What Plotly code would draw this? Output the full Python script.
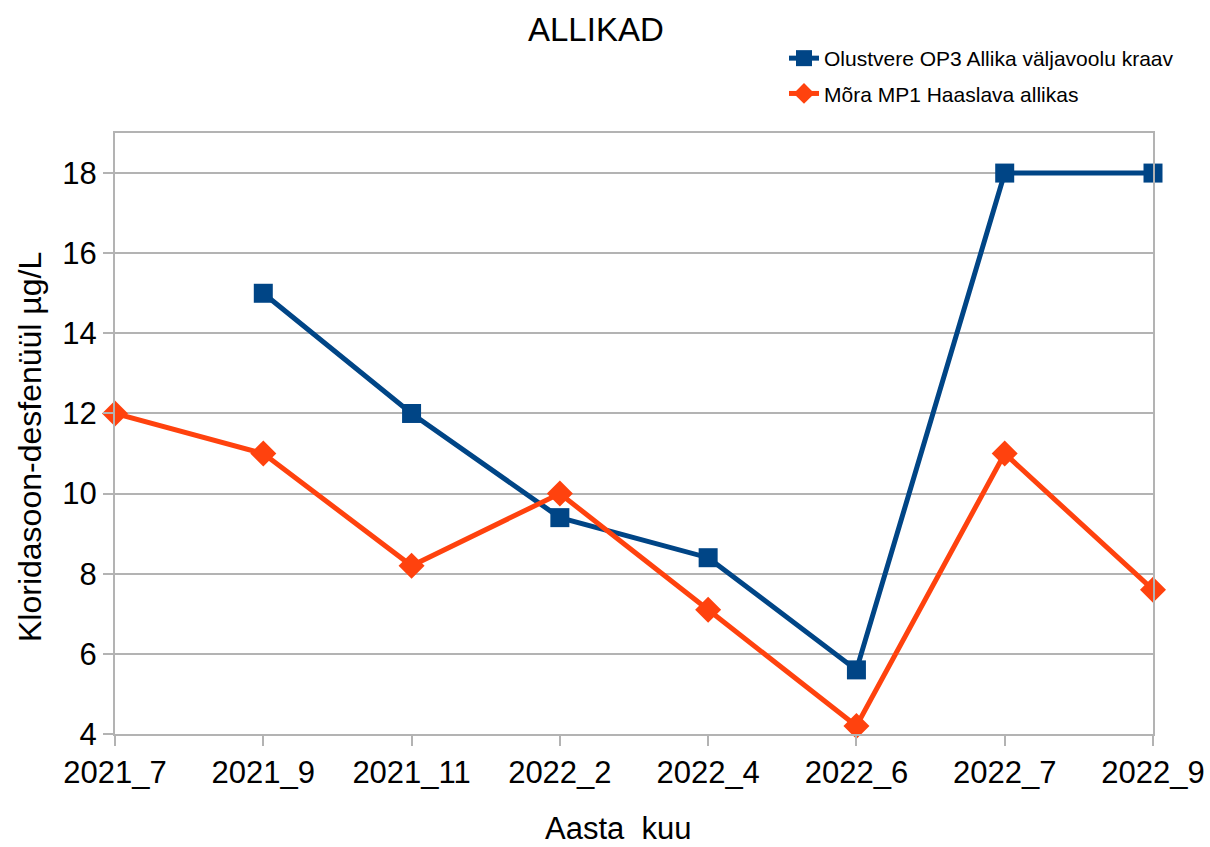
import plotly.graph_objects as go

FONT = 'Liberation Sans, Arial, sans-serif'
BLUE = '#004586'
ORANGE = '#ff420e'
GRID = '#b3b3b3'

months = ['2021_7', '2021_9', '2021_11', '2022_2', '2022_4', '2022_6', '2022_7', '2022_9']
olustvere = [None, 15, 12, 9.4, 8.4, 5.6, 18, 18]
mora = [12, 11, 8.2, 10, 7.1, 4.2, 11, 7.6]
y_ticks = [4, 6, 8, 10, 12, 14, 16, 18]

fig = go.Figure()
fig.add_trace(go.Scatter(
    x=months, y=olustvere, name='Olustvere OP3 Allika väljavoolu kraav',
    mode='lines+markers', line=dict(color=BLUE, width=5), legendgroup='a',
    marker=dict(symbol='square', size=19, color=BLUE), cliponaxis=False,
))
fig.add_trace(go.Scatter(
    x=months, y=mora, name='Mõra MP1 Haaslava allikas',
    mode='lines+markers', line=dict(color=ORANGE, width=5), legendgroup='b',
    marker=dict(symbol='diamond', size=20, color=ORANGE), cliponaxis=False,
))

W, H = 1210, 847
PL, PR, PT, PB = 115, 1153, 133, 734  # plot area in page pixels


def px_x(v):
    return (v - PL) / (PR - PL)


def px_y(v):
    return 1 - (v - PT) / (PB - PT)


fig.update_layout(
    width=W, height=H,
    margin=dict(l=PL, r=W - PR, t=PT, b=H - PB, autoexpand=False),
    plot_bgcolor='white', paper_bgcolor='white',
    font=dict(family=FONT, color='black'),
    showlegend=True,
    legend=dict(
        x=px_x(784), y=px_y(38), xanchor='left', yanchor='top',
        font=dict(size=21), bgcolor='rgba(0,0,0,0)',
        tracegroupgap=5,
    ),
    xaxis=dict(
        type='category', range=[0, 7], showgrid=False, automargin=False,
        showline=True, linecolor=GRID, linewidth=2, mirror=True,
        ticks='outside', ticklen=10, tickcolor=GRID, tickwidth=2,
        tickfont=dict(size=31), zeroline=False,
    ),
    yaxis=dict(
        range=[4, 19], tickvals=y_ticks, showgrid=True, gridcolor=GRID, gridwidth=2,
        showline=True, linecolor=GRID, linewidth=2, mirror=True, automargin=False,
        ticks='outside', ticklen=10, tickcolor=GRID, tickwidth=2,
        tickfont=dict(size=31), zeroline=False,
    ),
    annotations=[
        dict(text='ALLIKAD', x=px_x(596), y=px_y(30), xref='paper', yref='paper',
             showarrow=False, font=dict(size=33), xanchor='center', yanchor='middle'),
        dict(text='Aasta  kuu', x=px_x(618), y=px_y(828), xref='paper', yref='paper',
             showarrow=False, font=dict(size=31), xanchor='center', yanchor='middle'),
        dict(text='Kloridasoon-desfenüül µg/L', x=px_x(30), y=px_y(447), xref='paper',
             yref='paper', showarrow=False, textangle=-90, font=dict(size=32),
             xanchor='center', yanchor='middle'),
    ],
)

# drop the default body margin so the fixed-size figure fills the window exactly
fig.write_html(
    'out.html',
    config={'displayModeBar': False},
    post_script="document.body.style.margin='0';document.body.style.overflow='hidden';",
)
